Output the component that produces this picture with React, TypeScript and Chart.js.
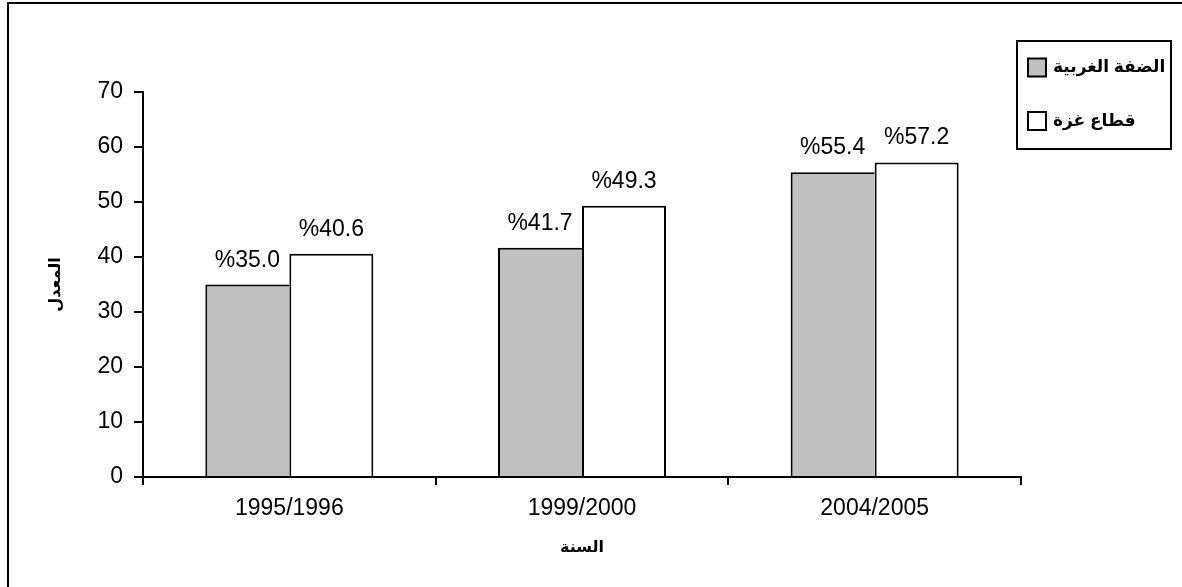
import { useEffect, useRef } from "react";
import { Chart, registerables } from "chart.js";

Chart.register(...registerables);

// Academic years on the category axis
const years = ["1995/1996", "1999/2000", "2004/2005"];
// Rate per region (%)
const westBank = [35.0, 41.7, 55.4];
const gaza = [40.6, 49.3, 57.2];
const seriesNames = ["الضفة الغربية", "قطاع غزة"];
const seriesFills = ["#C0C0C0", "#FFFFFF"];
const yMin = 0;
const yMax = 70;
const yStep = 10;
const xTitle = "السنة";
const yTitle = "المعدل";

const FONT = "'Liberation Sans', Arial, 'DejaVu Sans', sans-serif";
const W = 1182;
const H = 587;

// Percentage labels above each bar
const valueLabels = {
  id: "valueLabels",
  afterDatasetsDraw(chart: any) {
    const ctx = chart.ctx;
    ctx.save();
    ctx.font = `23px ${FONT}`;
    ctx.fillStyle = "#000";
    ctx.textAlign = "center";
    ctx.textBaseline = "alphabetic";
    chart.data.datasets.forEach((ds: any, di: number) => {
      const meta = chart.getDatasetMeta(di);
      meta.data.forEach((bar: any, i: number) => {
        const v = ds.data[i] as number;
        ctx.fillText(`%${v.toFixed(1)}`, bar.x, bar.y - 18);
      });
    });
    ctx.restore();
  },
};

// Outer frame and boxed legend on the right
const frameAndLegend = {
  id: "frameAndLegend",
  afterDraw(chart: any) {
    const ctx = chart.ctx;
    ctx.save();
    ctx.strokeStyle = "#000";
    ctx.lineWidth = 2;
    ctx.strokeRect(8, 3, W + 100, H + 100);

    const lx = 1017;
    const ly = 41;
    const lw = 154;
    const lh = 108;
    ctx.fillStyle = "#fff";
    ctx.fillRect(lx, ly, lw, lh);
    ctx.strokeRect(lx, ly, lw, lh);

    const rows = [67.5, 121];
    ctx.font = `bold 17px ${FONT}`;
    ctx.textAlign = "left";
    ctx.textBaseline = "middle";
    seriesNames.forEach((name, i) => {
      const cy = rows[i];
      ctx.fillStyle = seriesFills[i];
      ctx.fillRect(1028, cy - 9, 18, 18);
      ctx.strokeRect(1028, cy - 9, 18, 18);
      ctx.fillStyle = "#000";
      ctx.fillText(name, 1053, cy);
    });
    ctx.restore();
  },
};

export default function App() {
  const ref = useRef<HTMLCanvasElement | null>(null);

  useEffect(() => {
    if (!ref.current) return;
    const chart = new Chart(ref.current, {
      type: "bar",
      data: {
        labels: years,
        datasets: [
          {
            label: seriesNames[0],
            data: westBank,
            backgroundColor: seriesFills[0],
            borderColor: "#000",
            borderWidth: { top: 2, left: 2, right: 0, bottom: 0 },
            borderSkipped: "start",
            categoryPercentage: 0.574,
            barPercentage: 1,
          },
          {
            label: seriesNames[1],
            data: gaza,
            backgroundColor: seriesFills[1],
            borderColor: "#000",
            borderWidth: { top: 2, left: 2, right: 2, bottom: 0 },
            borderSkipped: "start",
            categoryPercentage: 0.574,
            barPercentage: 1,
          },
        ],
      },
      options: {
        responsive: false,
        animation: false,
        devicePixelRatio: 1,
        layout: { padding: { top: 92, right: W - 1021, left: 0, bottom: 0 } },
        plugins: {
          legend: { display: false },
          tooltip: { enabled: false },
        },
        scales: {
          x: {
            offset: true,
            grid: {
              offset: true,
              drawOnChartArea: false,
              drawTicks: true,
              tickLength: 8,
              color: "#000",
              lineWidth: 2,
            },
            border: { display: true, color: "#000", width: 2 },
            ticks: {
              color: "#000",
              padding: 10,
              maxRotation: 0,
              font: { family: FONT, size: 23 },
            },
            title: {
              display: true,
              text: xTitle,
              color: "#000",
              font: { family: FONT, size: 16, weight: "bold" },
              padding: { top: 0, bottom: 30 },
            },
            afterFit(scale: any) {
              scale.height = H - 477;
            },
          },
          y: {
            min: yMin,
            max: yMax,
            grid: {
              drawOnChartArea: false,
              drawTicks: true,
              tickLength: 9,
              color: "#000",
              lineWidth: 2,
            },
            border: { display: true, color: "#000", width: 2 },
            ticks: {
              stepSize: yStep,
              color: "#000",
              padding: 11,
              font: { family: FONT, size: 23 },
            },
            title: {
              display: true,
              text: yTitle,
              color: "#000",
              font: { family: FONT, size: 16, weight: "bold" },
              padding: { top: 46, bottom: 0 },
            },
            afterFit(scale: any) {
              scale.width = 143;
            },
          },
        },
      },
      plugins: [valueLabels, frameAndLegend],
    });
    return () => chart.destroy();
  }, []);

  return (
    <div style={{ position: "fixed", left: 0, top: 0, width: W, height: H, background: "#fff" }}>
      <canvas ref={ref} width={W} height={H} style={{ display: "block" }} />
    </div>
  );
}
